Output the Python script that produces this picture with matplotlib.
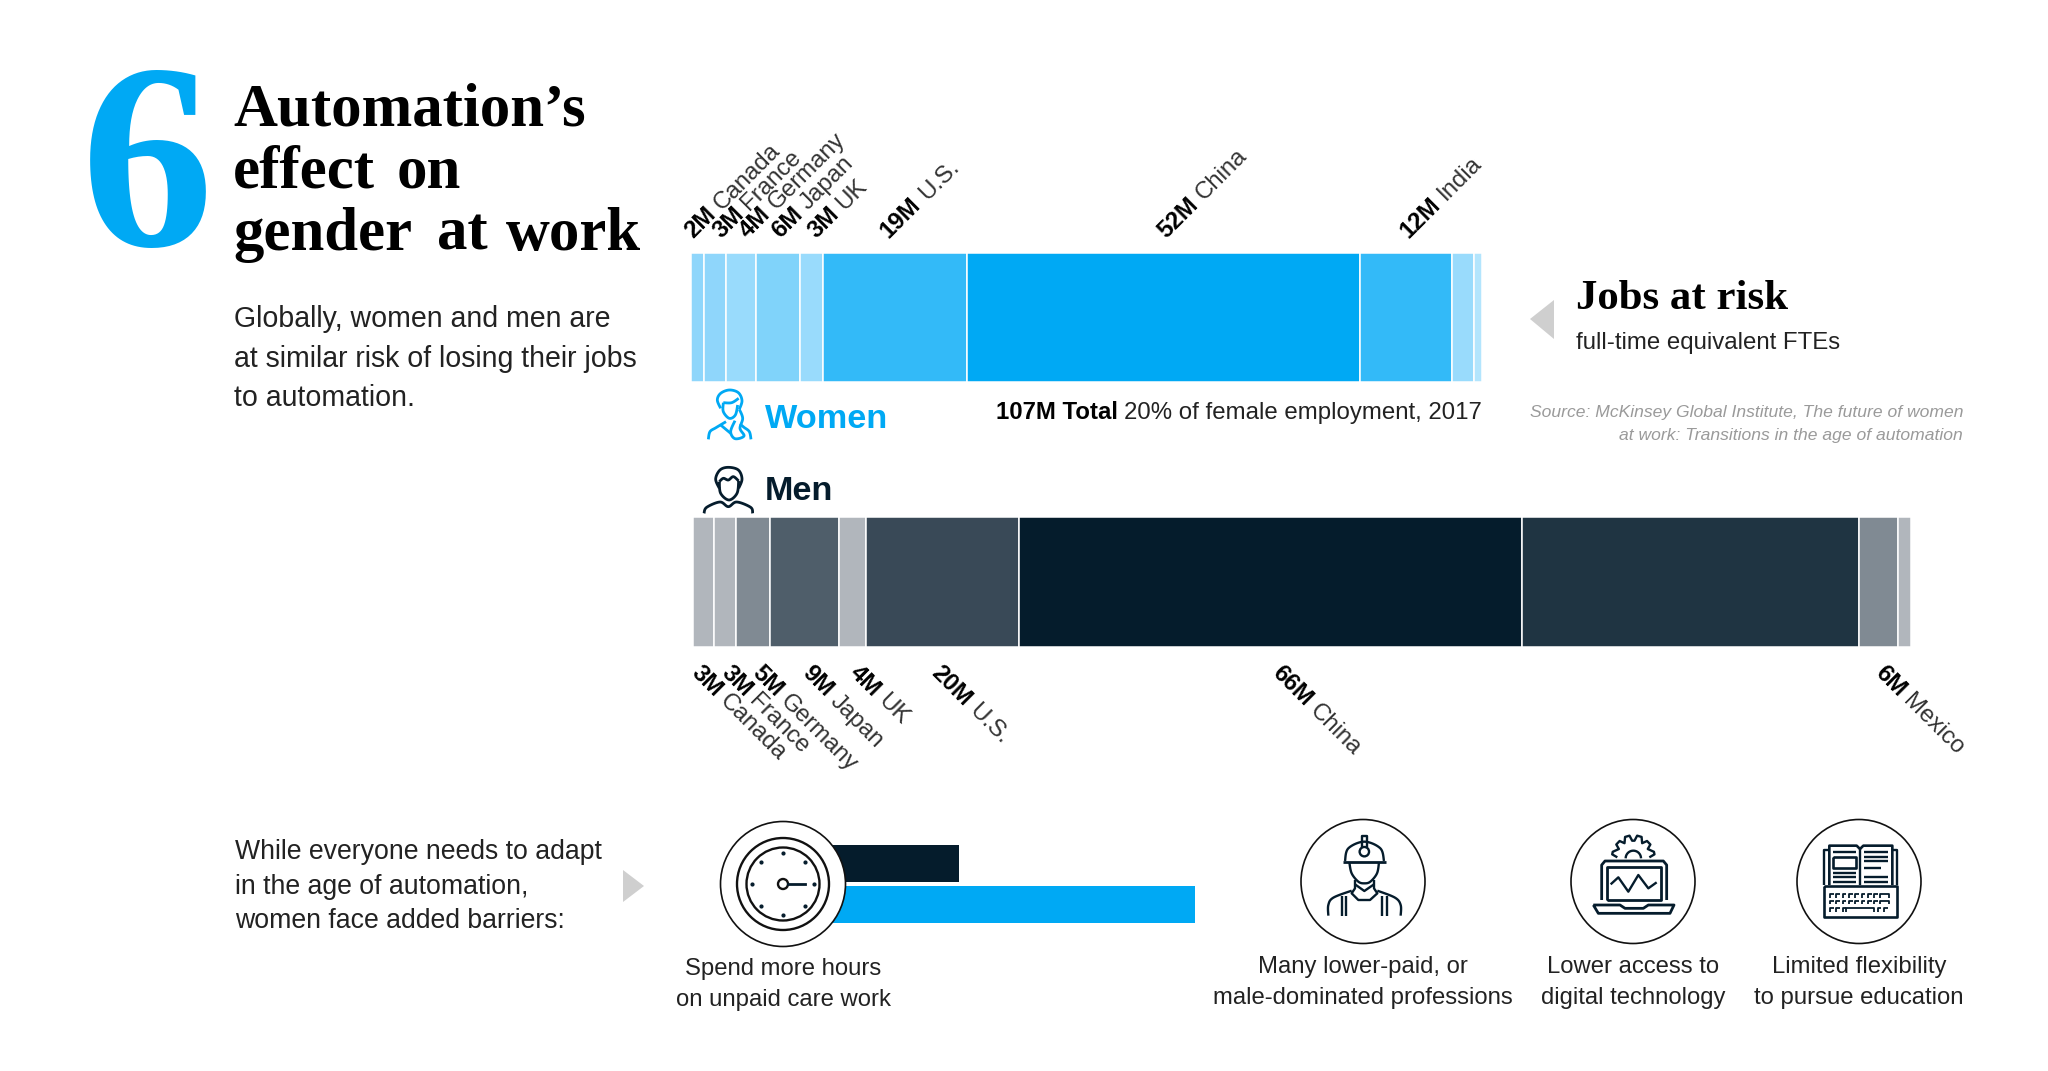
import numpy as np
import matplotlib
matplotlib.use("Agg")
import matplotlib.pyplot as plt
from matplotlib.font_manager import FontProperties
from matplotlib.patches import Circle, Polygon

# ---- data ----
women_countries = ["Canada", "France", "Germany", "Japan", "UK", "U.S.", "China", "India", "Mexico", "Other"]
women_values = [1.8, 2.9, 4.0, 5.8, 3.0, 19.0, 52.0, 12.1, 2.9, 1.1]
women_colors = ["#8FD6FB", "#8FD6FB", "#99DBFC", "#80D3FA", "#99DBFC", "#33BAF8", "#00A9F4", "#33BAF8", "#99DBFC", "#B3E5FD"]
women_labels = ["2M", "3M", "4M", "6M", "3M", "19M", "52M", "12M"]
women_names = ["Canada", "France", "Germany", "Japan", "UK", "U.S.", "China", "India"]

men_countries = ["Canada", "France", "Germany", "Japan", "UK", "U.S.", "China", "India", "Mexico", "Other"]
men_values = [2.7, 2.9, 4.5, 9.1, 3.5, 20.1, 66.0, 44.3, 5.1, 1.7]
men_colors = ["#B1B6BC", "#B1B6BC", "#808A93", "#4F5E6A", "#B1B6BC", "#394957", "#051C2C", "#1F3442", "#808A93", "#B1B6BC"]
men_labels = ["3M", "3M", "5M", "9M", "4M", "20M", "66M", "6M"]
men_names = ["Canada", "France", "Germany", "Japan", "UK", "U.S.", "China", "Mexico"]

care_groups = ["Men", "Women"]
care_values = [1.14, 3.07]
care_colors = ["#051C2C", "#00A9F4"]

W, H = 2048, 1071
BLUE, NAVY, INK = "#00A9F4", "#051C2C", "#222222"
SANS, SERIF = "Liberation Sans", "Liberation Serif"

fig = plt.figure(figsize=(W / 100, H / 100), dpi=100, facecolor="white")
renderer = fig.canvas.get_renderer()


def px_axes(x0, y0, x1, y1, z=1):
    a = fig.add_axes([x0 / W, 1 - y1 / H, (x1 - x0) / W, (y1 - y0) / H], zorder=z)
    a.axis("off")
    return a


def stacked(a, values, colors):
    left = 0.0
    for v, c in zip(values, colors):
        a.barh(0, v, left=left, height=1, color=c, edgecolor="white", linewidth=1.1)
        left += v
    a.set_xlim(0, left)
    a.set_ylim(-0.5, 0.5)


stacked(px_axes(690.5, 253, 1482, 382), women_values, women_colors)
stacked(px_axes(693, 517, 1911, 647), men_values, men_colors)

care_ax = px_axes(820, 845, 1195, 923)
care_ax.barh([1, 0], care_values, height=0.92, color=care_colors)
care_ax.set_xlim(0, 3.07)
care_ax.set_ylim(-0.46, 1.46)

ax = px_axes(0, 0, W, H, z=3)
ax.set_xlim(0, W)
ax.set_ylim(H, 0)
ax.patch.set_alpha(0)


def fsize(s, width, family, weight="normal", style="normal"):
    fp = FontProperties(family=family, weight=weight, style=style, size=20)
    w = renderer.get_text_width_height_descent(s, fp, False)[0]
    return 20 * width / w


def txt(x, y, s, size, color=INK, family=SANS, ha="left", weight="normal", style="normal", rot=0):
    return ax.text(x, y, s, fontsize=size, color=color, family=family, ha=ha, va="baseline",
                   weight=weight, style=style, rotation=rot, rotation_mode="anchor")


def rich(x, y, bold, regular, size, rot):
    fp = FontProperties(family=SANS, weight="bold", size=size)
    d = renderer.get_text_width_height_descent(bold, fp, False)[0] + size * 0.278 * 100 / 72
    t = np.radians(rot)
    txt(x, y, bold, size, color="#000000", weight="bold", rot=rot)
    txt(x + d * np.cos(t), y - d * np.sin(t), regular, size, color="#333333", rot=rot)


# headline block
txt(81, 245, "6", 191, color=BLUE, family=SERIF, weight="bold")
title = fsize("Automation\u2019s", 352, SERIF, "bold")
for x, y, s in [(233, 126, "Automation\u2019s"), (233, 188, "effect"), (397, 188, "on"),
                (233, 250, "gender"), (437, 250, "at"), (506, 250, "work")]:
    txt(x, y, s, title, color="#000000", family=SERIF, weight="bold")
body = fsize("at similar risk of losing their jobs", 404, SANS)
for y, s in [(327, "Globally, women and men are"), (367, "at similar risk of losing their jobs"), (406, "to automation.")]:
    txt(234, y, s, body)

# rotated bar labels
LAB = 17.3
for x, b, n in zip([693, 721, 748, 780, 816, 889, 1166, 1408], women_labels, women_names):
    rich(x, 239, b, n, LAB, 45)
for x, b, n in zip([690, 720, 751, 801, 849, 930, 1271, 1874], men_labels, men_names):
    rich(x, 674, b, n, LAB, -45)

# bar captions
gender = fsize("Women", 123, SANS, "bold")
txt(765, 428, "Women", gender, color=BLUE, weight="bold")
txt(765, 500, "Men", gender, color=NAVY, weight="bold")
tot = fsize("107M Total 20% of female employment, 2017", 480, SANS)
fp = FontProperties(family=SANS, size=tot)
txt(1482, 419, "20% of female employment, 2017", tot, ha="right")
rw = renderer.get_text_width_height_descent("20% of female employment, 2017 ", fp, False)[0]
txt(1482 - rw, 419, "107M Total", tot, ha="right", weight="bold", color="#000000")

# jobs-at-risk key
txt(1576, 309, "Jobs at risk", fsize("Jobs at risk", 212, SERIF, "bold"), color="#000000", family=SERIF, weight="bold")
txt(1576, 349, "full-time equivalent FTEs", fsize("full-time equivalent FTEs", 264, SANS))
ax.add_patch(Polygon([(1530, 319), (1554, 300), (1554, 339)], fc="#CFCFCF", ec="none"))
src = fsize("Source: McKinsey Global Institute, The future of women", 432, SANS, style="italic")
txt(1963, 417, "Source: McKinsey Global Institute, The future of women", src, color="#9A9A9A", ha="right", style="italic")
txt(1963, 440, "at work: Transitions in the age of automation", src, color="#9A9A9A", ha="right", style="italic")

# barriers text
bar_f = fsize("While everyone needs to adapt", 366, SANS)
for y, s in [(859, "While everyone needs to adapt"), (894, "in the age of automation,"), (928, "women face added barriers:")]:
    txt(235, y, s, bar_f)
ax.add_patch(Polygon([(623, 870), (644, 886), (623, 902)], fc="#CFCFCF", ec="none"))

cap = fsize("male-dominated professions", 299, SANS)
for x, y, a, b in [(783, 975, "Spend more hours", "on unpaid care work"), (1363, 973, "Many lower-paid, or", "male-dominated professions"),
                   (1633, 973, "Lower access to", "digital technology"), (1859, 973, "Limited flexibility", "to pursue education")]:
    txt(x, y, a, cap, ha="center")
    txt(x, y + 31, b, cap, ha="center")


# icons (decorative line art, in zoomed-crop coordinates)
def smooth(p, n=12):
    p = np.asarray(p, float)
    q = np.vstack([p[0], p, p[-1]])
    out = []
    for i in range(1, len(q) - 2):
        for t in np.linspace(0, 1, n, endpoint=False):
            a, b, c, d = q[i - 1], q[i], q[i + 1], q[i + 2]
            out.append(0.5 * (2 * b + (c - a) * t + (2 * a - 5 * b + 4 * c - d) * t ** 2 + (3 * b - a - 3 * c + d) * t ** 3))
    out.append(p[-1])
    return np.array(out)


def line(org, pts, color=NAVY, lw=1.7, curve=False, s=1 / 3):
    p = smooth(pts) if curve else np.asarray(pts, float)
    ax.plot(org[0] + p[:, 0] * s, org[1] + p[:, 1] * s, color=color, lw=lw, solid_capstyle="butt",
            solid_joinstyle="round", zorder=5)


def ring(x, y, r, lw=1.3, color="#111111", fc="none", z=4):
    ax.add_patch(Circle((x, y), r, fc=fc, ec=color, lw=lw, zorder=z))


# clock
ring(783, 884, 62.5, 1.2, fc="white")
ring(783, 884, 46, 1.7, z=5)
ring(783, 884, 36.5, 1.7, z=5)
ring(783, 884, 5, 1.7, z=5)
for a in np.radians(np.arange(0, 360, 45)):
    ax.plot(783 + 31 * np.cos(a), 884 + 31 * np.sin(a), "o", ms=2, color=NAVY, zorder=5)
ax.plot([788, 805], [884, 884], color=NAVY, lw=2, zorder=5)

for cx in [1363, 1633, 1859]:
    ring(cx, 881.5, 62, 1.2)

# worker
o = (1300, 825)
line(o, [(135, 108), (145, 70), (193, 50), (241, 70), (252, 108)], curve=True)
line(o, [(128, 110), (258, 110)], lw=2)
line(o, [(185, 65), (185, 33), (200, 33), (200, 65)])
ring(1300 + 193 / 3, 825 + 80 / 3, 4.7, 1.7, color=NAVY, z=5)
line(o, [(148, 112), (155, 145), (175, 170), (193, 175), (211, 170), (231, 145), (237, 112)], curve=True)
line(o, [(165, 165), (165, 190), (155, 205), (175, 225), (210, 225), (232, 205), (222, 190), (222, 165)])
line(o, [(165, 178), (193, 198), (222, 178)])
line(o, [(85, 272), (85, 240), (100, 218), (155, 197)], curve=True)
line(o, [(302, 272), (302, 240), (285, 218), (232, 197)], curve=True)
for x in [125, 138, 245, 260]:
    line(o, [(x, 214), (x, 272)])

# laptop and gear
o = (1570, 825)
ang = np.radians(np.array([180, 172, 165, 150, 143, 130, 122, 112, 100, 94, 86, 80, 68, 58, 50, 37, 30, 15, 8, 0]))
rad = np.array([48, 64, 64, 50, 64, 64, 50, 66, 66, 50, 50, 66, 66, 50, 64, 64, 50, 64, 64, 48])
line(o, np.c_[190 + rad * np.cos(ang), 97 - rad * np.sin(ang)])
a2 = np.radians(np.linspace(0, 180, 25))
line(o, np.c_[190 + 23 * np.cos(a2), 100 - 23 * np.sin(a2)])
line(o, [(95, 225), (95, 120), (105, 108), (280, 108), (290, 120), (290, 225)], lw=2)
line(o, [(110, 225), (110, 125), (272, 125), (272, 225), (110, 225)], lw=2)
line(o, [(122, 178), (145, 157), (175, 200), (205, 150), (235, 190), (260, 172)])
line(o, [(70, 240), (150, 240), (165, 250), (220, 250), (235, 240), (312, 240), (300, 265), (85, 265), (70, 240)], lw=2)

# book and keyboard
o = (1795, 825)
line(o, [(103, 180), (103, 62), (185, 62), (195, 72), (205, 62), (292, 62), (292, 180)], lw=1.9)
line(o, [(88, 180), (88, 75), (103, 75)])
line(o, [(292, 75), (305, 75), (305, 180)])
line(o, [(195, 72), (195, 180)])
line(o, [(115, 95), (182, 95), (182, 130), (115, 130), (115, 95)], lw=1.9)
for y in [80, 143, 157, 172]:
    line(o, [(113, y), (182, y)])
for y, x2 in [(80, 280), (95, 280), (108, 280), (130, 258), (155, 280), (172, 280)]:
    line(o, [(208, y), (x2, y)])
line(o, [(88, 183), (305, 183), (305, 277), (88, 277), (88, 183)], lw=1.9)
for y, xs in [(208, range(105, 245, 19)), (228, range(105, 245, 19)), (250, list(range(105, 150, 19)) + [248, 267])]:
    for x in xs:
        line(o, [(x, y + 10), (x, y), (x + 11, y)], lw=1.3)
line(o, [(255, 218), (255, 208), (283, 208), (283, 218)], lw=1.3)
line(o, [(255, 238), (255, 228), (283, 228), (283, 238)], lw=1.3)
line(o, [(152, 260), (152, 250), (238, 250), (238, 260)], lw=1.3)

# women and men icons
o = (690, 380)
line(o, [(92, 85), (82, 60), (92, 40), (118, 30), (145, 38), (156, 62), (148, 88)], color=BLUE, lw=2, curve=True)
line(o, [(100, 68), (125, 68), (146, 55)], color=BLUE, lw=2, curve=True)
line(o, [(100, 68), (100, 95), (118, 115), (136, 105), (143, 75)], color=BLUE, lw=2, curve=True)
line(o, [(55, 178), (60, 155), (78, 143), (108, 125)], color=BLUE, lw=2, curve=True)
line(o, [(183, 178), (178, 155), (162, 142), (150, 132)], color=BLUE, lw=2, curve=True)
line(o, [(148, 88), (158, 115), (150, 145), (162, 168), (135, 176), (122, 155), (135, 122)], color=BLUE, lw=2, curve=True)
line(o, [(92, 135), (122, 160)], color=BLUE, lw=2)

line(o, [(88, 325), (77, 297), (90, 270), (115, 262), (145, 270), (156, 297), (146, 325)], curve=True, lw=2)
line(o, [(88, 305), (100, 295), (115, 300), (130, 290), (146, 303)], curve=True, lw=2)
line(o, [(88, 305), (92, 340), (117, 360), (141, 340), (146, 303)], curve=True, lw=2)
line(o, [(42, 400), (50, 382), (90, 366), (115, 380), (140, 366), (182, 382), (188, 400)], curve=True, lw=2)

fig.savefig("out.png", dpi=100)
